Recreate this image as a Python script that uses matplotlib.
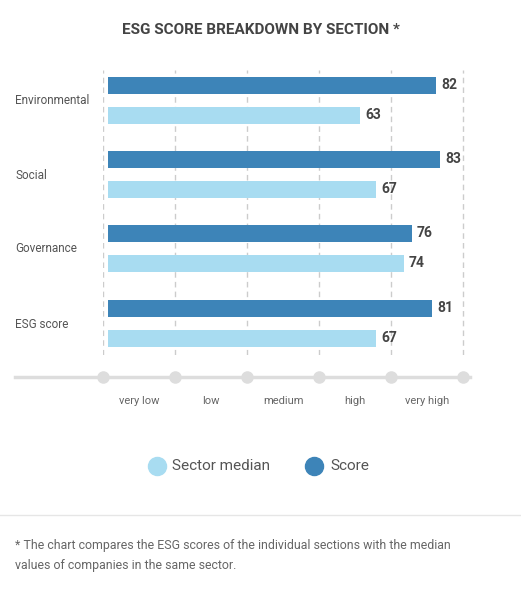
import matplotlib.pyplot as plt
from matplotlib.lines import Line2D

categories = ["Environmental", "Social", "Governance", "ESG score"]
score = [82, 83, 76, 81]
median = [63, 67, 74, 67]
levels = ["very low", "low", "medium", "high", "very high"]
grid_vals = [0, 18, 36, 54, 72, 90]

W, H = 521, 600
fig = plt.figure(figsize=(W/100, H/100), dpi=100)
plt.rcParams['font.family'] = ['Roboto', 'DejaVu Sans']

def fx(px): return px / W
def fy(py): return 1 - py / H

x0, x1 = 103, 470
y0, y1 = 70, 355
ax = fig.add_axes([fx(x0), fy(y1), fx(x1) - fx(x0), (y1 - y0) / H])
scale_max = 90 * (x1 - x0) / (463 - x0)
ax.set_xlim(0, scale_max)
ax.set_ylim(355, 70)
ax.axis('off')

centers = [85, 159, 233, 308]
off = 30
for c, s, m in zip(centers, score, median):
    ax.barh(c, s, height=17, color="#3d84b8", left=1.2)
    ax.barh(c + off, m, height=17, color="#a8dcf1", left=1.2)
    ax.text(s + 2.5, c, str(s), va='center', ha='left', fontsize=10, fontweight='bold', color='#444')
    ax.text(m + 2.5, c + off, str(m), va='center', ha='left', fontsize=10, fontweight='bold', color='#444')
for g in grid_vals:
    ax.axvline(g, color='#cccccc', ls=(0, (4, 3)), lw=1, zorder=0)

for cat, c in zip(categories, centers):
    fig.text(fx(15), fy(c + 16), cat, fontsize=8.5, color='#555', va='center')

fig.add_artist(Line2D([fx(15), fx(470)], [fy(377), fy(377)], color='#dddddd', lw=2.5))
for i in range(6):
    px = 103 + 72 * i
    fig.add_artist(Line2D([fx(px)], [fy(377)], marker='o', ms=8, color='#dddddd', mec='#dddddd'))
for i, l in enumerate(levels):
    fig.text(fx(139 + 72 * i), fy(401), l, fontsize=8, color='#666', ha='center', va='center')

fig.text(0.5, fy(30), "ESG SCORE BREAKDOWN BY SECTION *", ha='center', va='center',
         fontsize=11, fontweight='bold', color='#444')

fig.add_artist(Line2D([fx(157)], [fy(466)], marker='o', ms=13, color='#a8dcf1'))
fig.text(fx(172), fy(466), "Sector median", fontsize=11, color='#555', va='center')
fig.add_artist(Line2D([fx(314)], [fy(466)], marker='o', ms=13, color='#3d84b8'))
fig.text(fx(330), fy(466), "Score", fontsize=11, color='#555', va='center')

fig.add_artist(Line2D([0, 1], [fy(515), fy(515)], color='#e6e6e6', lw=1))
fig.text(fx(15), fy(546), "* The chart compares the ESG scores of the individual sections with the median",
         fontsize=8.9, color='#666', va='center')
fig.text(fx(15), fy(566), "values of companies in the same sector.", fontsize=8.9, color='#666', va='center')

fig.savefig("out.png", dpi=100, facecolor='white')
